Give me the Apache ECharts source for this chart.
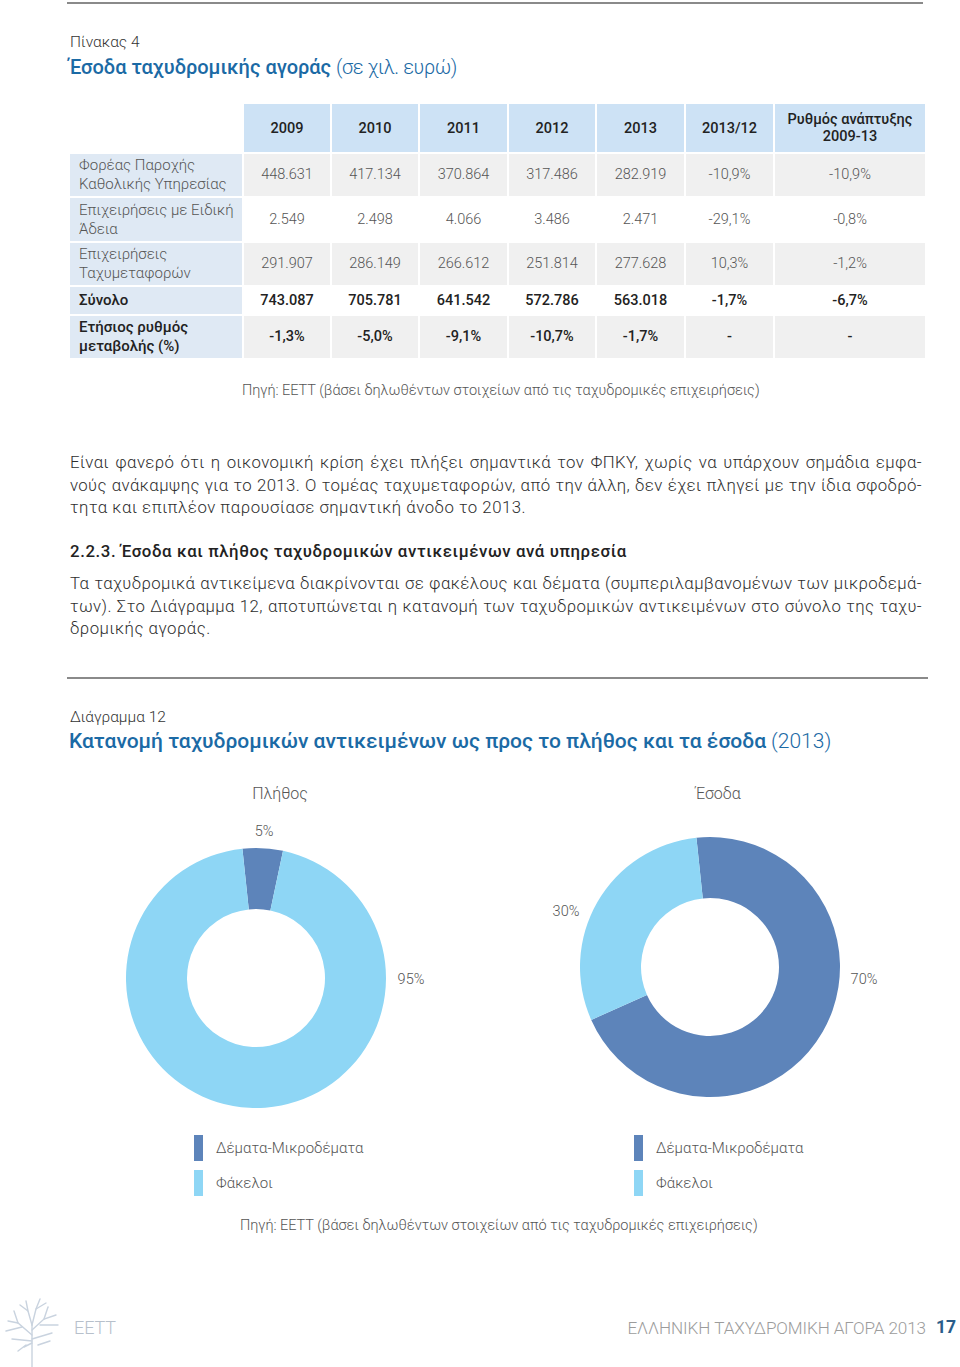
<!DOCTYPE html>
<html lang="el">
<head>
<meta charset="utf-8">
<script src="https://cdn.jsdelivr.net/npm/echarts@6/dist/echarts.min.js"></script>
<style>
  html, body { margin:0; padding:0; background:#fff; }
  body { width:960px; height:1367px; position:relative; overflow:hidden;
         font-family:'Roboto','Open Sans',sans-serif; font-weight:300; color:#333; }
  .abs { position:absolute; white-space:nowrap; }
  .rule { position:absolute; height:2px; background:#8a8a8a; }
  .kicker { font-size:15.5px; color:#333; }
  .title { font-size:21px; color:#1b6aa5; }
  .title b { font-weight:500; }
  .cell { position:absolute; display:flex; align-items:center; justify-content:center;
          font-size:14.5px; color:#555; box-sizing:border-box; text-align:center; line-height:18px; }
  .cell.lbl { justify-content:flex-start; padding-left:9px; text-align:left; white-space:pre-line; font-size:15px; line-height:19px; }
  .cell.hdr { font-weight:500; color:#222; line-height:17px; white-space:pre-line; }
  .cell.bold { font-weight:500; color:#222; }
  .src { font-size:14.5px; color:#555; }
  .para { position:absolute; left:70px; width:852px; font-size:16.8px; color:#2e2e2e; letter-spacing:0.38px; }
  .para div { text-align:justify; text-align-last:justify; white-space:nowrap; height:22.5px; line-height:22.5px; }
  .para div.last { text-align-last:left; letter-spacing:0.5px; }
  .heading { font-size:16.8px; font-weight:500; color:#222; letter-spacing:0.6px; }
  #chart { position:absolute; left:0; top:760px; width:960px; height:460px; }
</style>
</head>
<body>
<div class="rule" style="left:67px; top:2px; width:856px;"></div>
<div class="abs kicker" style="left:70px; top:33px;">Πίνακας 4</div>
<div class="abs title" style="left:69px; top:55px; font-size:20px;"><b>Έσοδα ταχυδρομικής αγοράς</b> <span style="letter-spacing:-0.4px;">(σε χιλ. ευρώ)</span></div>

<div id="table"></div>

<div class="abs src" style="left:242px; top:382px;">Πηγή: ΕΕΤΤ (βάσει δηλωθέντων στοιχείων από τις ταχυδρομικές επιχειρήσεις)</div>

<div class="para" style="top:451px;">
  <div>Είναι φανερό ότι η οικονομική κρίση έχει πλήξει σημαντικά τον ΦΠΚΥ, χωρίς να υπάρχουν σημάδια εμφα-</div>
  <div>νούς ανάκαμψης για το 2013. Ο τομέας ταχυμεταφορών, από την άλλη, δεν έχει πληγεί με την ίδια σφοδρό-</div>
  <div class="last">τητα και επιπλέον παρουσίασε σημαντική άνοδο το 2013.</div>
</div>
<div class="abs heading" style="left:70px; top:541px;">2.2.3. Έσοδα και πλήθος ταχυδρομικών αντικειμένων ανά υπηρεσία</div>
<div class="para" style="top:572px;">
  <div>Τα ταχυδρομικά αντικείμενα διακρίνονται σε φακέλους και δέματα (συμπεριλαμβανομένων των μικροδεμά-</div>
  <div>των). Στο Διάγραμμα 12, αποτυπώνεται η κατανομή των ταχυδρομικών αντικειμένων στο σύνολο της ταχυ-</div>
  <div class="last">δρομικής αγοράς.</div>
</div>

<div class="rule" style="left:67px; top:677px; width:861px;"></div>
<div class="abs kicker" style="left:70px; top:708px;">Διάγραμμα 12</div>
<div class="abs title" style="left:69px; top:729px;"><b>Κατανομή ταχυδρομικών αντικειμένων ως προς το πλήθος και τα έσοδα</b> (2013)</div>

<div id="chart"></div>

<div class="abs src" style="left:240px; top:1217px;">Πηγή: ΕΕΤΤ (βάσει δηλωθέντων στοιχείων από τις ταχυδρομικές επιχειρήσεις)</div>

<svg class="abs" style="left:0; top:1295px;" width="70" height="72" viewBox="0 0 70 72">
  <g stroke="#c9d3df" stroke-width="1.4" fill="none" stroke-linecap="round">
    <path d="M32,72 V30"/>
    <path d="M32,40 L18,28 L8,26"/><path d="M18,28 L14,16"/><path d="M22,32 L6,36"/>
    <path d="M32,35 L44,24 L56,20"/><path d="M44,24 L48,12"/><path d="M40,30 L58,30"/>
    <path d="M32,30 L28,16 L26,6"/><path d="M28,16 L20,10"/><path d="M32,30 L36,14 L40,4"/>
    <path d="M36,14 L46,8"/><path d="M32,44 L52,38"/><path d="M32,46 L12,44"/>
    <path d="M26,50 L18,56"/><path d="M38,50 L50,46"/><path d="M32,48 L24,52"/>
  </g>
</svg>
<div class="abs" style="left:74px; top:1317px; font-size:18px; color:#b7c0cb; font-weight:300;">ΕΕΤΤ</div>
<div class="abs" style="right:34px; top:1318px; font-size:17.1px; color:#9c9c9c; font-weight:300; letter-spacing:-0.1px;">ΕΛΛΗΝΙΚΗ ΤΑΧΥΔΡΟΜΙΚΗ ΑΓΟΡΑ 2013</div>
<div class="abs" style="left:936px; top:1317px; font-size:17.5px; color:#2a5d8a; font-weight:700;">17</div>

<script>
// ---------- Table data (Πίνακας 4, χιλ. ευρώ) ----------
const tableHeaders = ['2009', '2010', '2011', '2012', '2013', '2013/12', 'Ρυθμός ανάπτυξης\n2009-13'];
const rowLabels = ['Φορέας Παροχής\nΚαθολικής Υπηρεσίας', 'Επιχειρήσεις με Ειδική\nΆδεια', 'Επιχειρήσεις\nΤαχυμεταφορών', 'Σύνολο', 'Ετήσιος ρυθμός\nμεταβολής (%)'];
const revUSP      = [448631, 417134, 370864, 317486, 282919];
const revLicence  = [2549, 2498, 4066, 3486, 2471];
const revCourier  = [291907, 286149, 266612, 251814, 277628];
const revTotal    = [743087, 705781, 641542, 572786, 563018];
const change1312  = [-10.9, -29.1, 10.3, -1.7];
const cagr0913    = [-10.9, -0.8, -1.2, -6.7];
const annualChange = [-1.3, -5.0, -9.1, -10.7, -1.7];

// ---------- Chart data (Διάγραμμα 12) ----------
const pieCategories = ['Δέματα-Μικροδέματα', 'Φάκελοι'];
const shareVolume   = [5, 95];
const shareRevenue  = [70, 30];
const pieTitles     = ['Πλήθος', 'Έσοδα'];

// ---------- formatting helpers ----------
function fmtThousands(n) {
  const s = String(Math.abs(n));
  return (n < 0 ? '-' : '') + s.replace(/\B(?=(\d{3})+(?!\d))/g, '.');
}
function fmtPct(v) { return v.toFixed(1).replace('.', ',') + '%'; }

// ---------- build table ----------
(function buildTable() {
  const colX = [70, 244, 332, 420, 509, 597, 686, 775];
  const colW = [172, 86, 86, 87, 86, 87, 87, 150];
  const rowY = [104, 154, 198, 243, 287, 316];
  const rowH = [48, 42, 43, 42, 27, 42];
  const dataRows = [revUSP, revLicence, revCourier, revTotal].map((arr, i) =>
    arr.map(fmtThousands).concat([fmtPct(change1312[i]), fmtPct(cagr0913[i])]));
  dataRows.push(annualChange.map(fmtPct).concat(['-', '-']));
  const grey = [true, false, true, false, true];
  const boldRow = [false, false, false, true, true];
  const host = document.getElementById('table');
  function cell(x, y, w, h, text, cls, bg) {
    const d = document.createElement('div');
    d.className = 'cell ' + cls;
    d.style.left = x + 'px'; d.style.top = y + 'px';
    d.style.width = w + 'px'; d.style.height = h + 'px';
    d.style.background = bg;
    d.textContent = text;
    host.appendChild(d);
  }
  tableHeaders.forEach((h, j) => cell(colX[j + 1], rowY[0], colW[j + 1], rowH[0], h, 'hdr', '#cde2f5'));
  rowLabels.forEach((lab, i) => {
    cell(colX[0], rowY[i + 1], colW[0], rowH[i + 1], lab, 'lbl' + (boldRow[i] ? ' bold' : ''), '#dfe9f4');
    dataRows[i].forEach((v, j) => cell(colX[j + 1], rowY[i + 1], colW[j + 1], rowH[i + 1], v,
      boldRow[i] ? 'bold' : '', grey[i] ? '#f0f0f0' : '#ffffff'));
  });
})();

// ---------- donut charts ----------
const COLORS = ['#5d84ba', '#8ed6f5'];
const CENTERS = [[256, 218], [710, 207]];
const LABEL_POS = [ [[264, 71], [411, 219]], [[864, 219], [566, 151]] ];
const FONT = "'Roboto','Open Sans',sans-serif";

const chart = echarts.init(document.getElementById('chart'), null, { renderer: 'svg' });
function pieSeries(idx, values) {
  return {
    type: 'pie',
    center: CENTERS[idx],
    radius: [69, 130],
    startAngle: 96,
    clockwise: true,
    avoidLabelOverlap: false,
    silent: true,
    animation: false,
    color: COLORS,
    itemStyle: { borderWidth: 0 },
    label: { show: true, position: 'outside', formatter: '{c}%', color: '#555',
             fontSize: 14.5, fontFamily: FONT, fontWeight: 300 },
    labelLine: { show: false },
    labelLayout: function (p) {
      const pos = LABEL_POS[idx][p.dataIndex];
      return { x: pos[0], y: pos[1], align: 'center', verticalAlign: 'middle' };
    },
    emphasis: { disabled: true },
    data: pieCategories.map((n, i) => ({ name: n, value: values[i] }))
  };
}
function legend(left) {
  return {
    left: left, top: 370, orient: 'vertical',
    icon: 'rect', itemWidth: 9, itemHeight: 26, itemGap: 9,
    selectedMode: false,
    data: pieCategories,
    textStyle: { color: '#555', fontSize: 15, fontFamily: FONT, fontWeight: 300, padding: [0, 0, 0, 8] }
  };
}
chart.setOption({
  animation: false,
  color: COLORS,
  title: [
    { text: pieTitles[0], left: 275, top: 28, textAlign: 'center', textVerticalAlign: 'middle',
      textStyle: { color: '#555', fontSize: 16, fontWeight: 300, fontFamily: FONT } },
    { text: pieTitles[1], left: 713, top: 28, textAlign: 'center', textVerticalAlign: 'middle',
      textStyle: { color: '#555', fontSize: 16, fontWeight: 300, fontFamily: FONT } }
  ],
  legend: [legend(189), legend(629)],
  series: [pieSeries(0, shareVolume), pieSeries(1, shareRevenue)]
});
</script>
</body>
</html>
